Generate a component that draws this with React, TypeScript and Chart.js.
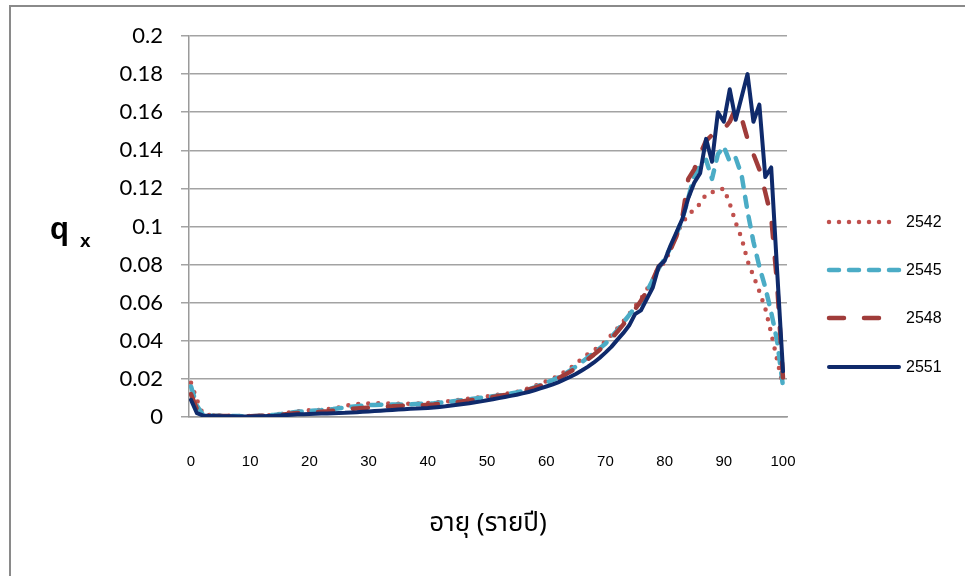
import React, { useEffect, useRef } from "react";
import { Chart, registerables } from "chart.js";

Chart.register(...registerables);

const ages = [
  0, 1, 2, 3, 4, 5, 6, 7, 8, 9, 10, 11, 12, 13, 14, 15, 16, 17, 18, 19, 20,
  21, 22, 23, 24, 25, 26, 27, 28, 29, 30, 31, 32, 33, 34, 35, 36, 37, 38, 39, 40,
  41, 42, 43, 44, 45, 46, 47, 48, 49, 50, 51, 52, 53, 54, 55, 56, 57, 58, 59, 60,
  61, 62, 63, 64, 65, 66, 67, 68, 69, 70, 71, 72, 73, 74, 75, 76, 77, 78, 79, 80,
  81, 82, 83, 84, 85, 86, 87, 88, 89, 90, 91, 92, 93, 94, 95, 96, 97, 98, 99, 100,
];

const q2542 = [
  0.018, 0.009, 0.0015, 0.001, 0.0008, 0.0007, 0.0006, 0.0006, 0.0005, 0.0005, 0.0005,
  0.0006, 0.0007, 0.0009, 0.0012, 0.0016, 0.0021, 0.0026, 0.003, 0.0033, 0.0035,
  0.0036, 0.0038, 0.004, 0.0045, 0.005, 0.0058, 0.0065, 0.0068, 0.007, 0.0071,
  0.0072, 0.0072, 0.0071, 0.0071, 0.007, 0.007, 0.007, 0.0071, 0.0072, 0.0073,
  0.0075, 0.0078, 0.0081, 0.0085, 0.0089, 0.0093, 0.0097, 0.0101, 0.0105, 0.0109,
  0.0113, 0.0117, 0.0121, 0.0126, 0.0132, 0.014, 0.015, 0.0162, 0.0175, 0.0188,
  0.02, 0.0215, 0.0235, 0.0255, 0.028, 0.0305, 0.033, 0.035, 0.037, 0.0395,
  0.043, 0.0465, 0.05, 0.054, 0.058, 0.062, 0.067, 0.072, 0.079, 0.081,
  0.088, 0.096, 0.102, 0.106, 0.109, 0.112, 0.117, 0.118, 0.119, 0.12,
  0.112, 0.102, 0.094, 0.082, 0.074, 0.066, 0.057, 0.044, 0.03, 0.016,
];

const q2545 = [
  0.016, 0.006, 0.0012, 0.0009, 0.0007, 0.0006, 0.0005, 0.0005, 0.0005, 0.0004, 0.0004,
  0.0005, 0.0006, 0.0008, 0.0011, 0.0015, 0.0019, 0.0023, 0.0027, 0.003, 0.0032,
  0.0034, 0.0036, 0.0039, 0.0042, 0.0046, 0.005, 0.0054, 0.0057, 0.006, 0.0062,
  0.0063, 0.0064, 0.0065, 0.0065, 0.0066, 0.0066, 0.0067, 0.0068, 0.0069, 0.007,
  0.0072, 0.0075, 0.0078, 0.0081, 0.0085, 0.0089, 0.0093, 0.0097, 0.0101, 0.0105,
  0.0109, 0.0113, 0.0118, 0.0123, 0.0129, 0.0136, 0.0145, 0.0156, 0.0168, 0.018,
  0.0193, 0.0207, 0.0224, 0.0243, 0.0265, 0.0288, 0.0312, 0.0336, 0.036, 0.0385,
  0.042, 0.0455, 0.0495, 0.0535, 0.0575, 0.06, 0.066, 0.072, 0.078, 0.083,
  0.089, 0.096, 0.104, 0.115, 0.127, 0.132, 0.135, 0.125, 0.138, 0.142,
  0.134, 0.136, 0.127, 0.108, 0.092, 0.079, 0.068, 0.055, 0.04, 0.016,
];

const q2548 = [
  0.012, 0.004, 0.001, 0.0008, 0.0006, 0.0005, 0.0005, 0.0004, 0.0004, 0.0004, 0.0004,
  0.0005, 0.0006, 0.0007, 0.0009, 0.0012, 0.0015, 0.0018, 0.0021, 0.0023, 0.0025,
  0.0026, 0.0028, 0.003, 0.0033, 0.0036, 0.0039, 0.0042, 0.0045, 0.0047, 0.0049,
  0.0051, 0.0053, 0.0055, 0.0056, 0.0058, 0.0059, 0.006, 0.0061, 0.0062, 0.0064,
  0.0066, 0.0069, 0.0072, 0.0075, 0.0079, 0.0083, 0.0087, 0.0091, 0.0096, 0.01,
  0.0105, 0.011, 0.0115, 0.0121, 0.0127, 0.0134, 0.0143, 0.0153, 0.0164, 0.0176,
  0.0189, 0.0203, 0.0219, 0.0237, 0.0257, 0.0279, 0.0302, 0.0326, 0.0352, 0.038,
  0.0412, 0.0447, 0.0485, 0.0525, 0.0565, 0.061, 0.066, 0.072, 0.079, 0.082,
  0.088, 0.095, 0.105, 0.125, 0.13, 0.138, 0.145, 0.148, 0.15, 0.151,
  0.155, 0.162, 0.157, 0.146, 0.138, 0.13, 0.118, 0.105, 0.07, 0.02,
];

const q2551 = [
  0.009, 0.002, 0.0008, 0.0006, 0.0005, 0.0004, 0.0004, 0.0004, 0.0003, 0.0003, 0.0003,
  0.0004, 0.0004, 0.0005, 0.0006, 0.0008, 0.001, 0.0012, 0.0014, 0.0015, 0.0016,
  0.0017, 0.0018, 0.0019, 0.002, 0.0021, 0.0022, 0.0024, 0.0025, 0.0027, 0.0029,
  0.0031, 0.0033, 0.0035, 0.0037, 0.0039, 0.0041, 0.0043, 0.0044, 0.0046, 0.0047,
  0.005, 0.0053, 0.0056, 0.006, 0.0064, 0.0068, 0.0072, 0.0077, 0.0082, 0.0088,
  0.0093, 0.0099, 0.0105, 0.0111, 0.0117, 0.0124, 0.0131, 0.014, 0.015, 0.016,
  0.017, 0.0182, 0.0196, 0.021, 0.0226, 0.0244, 0.0263, 0.0285, 0.031, 0.0338,
  0.0368, 0.0405, 0.044, 0.048, 0.054, 0.056, 0.062, 0.068, 0.079, 0.082,
  0.09, 0.097, 0.104, 0.115, 0.123, 0.128, 0.146, 0.134, 0.16, 0.155,
  0.172, 0.156, 0.168, 0.18, 0.155, 0.164, 0.126, 0.131, 0.077, 0.024,
];

const seriesNames = ["2542", "2545", "2548", "2551"];
const xTickValues = [0, 10, 20, 30, 40, 50, 60, 70, 80, 90, 100];
const yTickValues = [0, 0.02, 0.04, 0.06, 0.08, 0.1, 0.12, 0.14, 0.16, 0.18, 0.2];
const xTitle = "อายุ (รายปี)";
const yTitleMain = "q";
const yTitleSub = "x";

const styles = [
  { color: "#C0504D", dash: [0, 10], width: 4.5, order: 4 },
  { color: "#4BACC6", dash: [10, 10], width: 4.5, order: 3 },
  { color: "#A03C3A", dash: [15, 20], width: 4.5, order: 2 },
  { color: "#0F2A6B", dash: [] as number[], width: 4, order: 1 },
];

const seriesValues = [q2542, q2545, q2548, q2551];

const legendPlugin = {
  id: "customLegend",
  afterDraw(chart: any) {
    const ctx = chart.ctx;
    const ys = [222, 270, 318, 367];
    ctx.save();
    chart.data.datasets.forEach((ds: any, i: number) => {
      const y = ys[i];
      ctx.beginPath();
      ctx.strokeStyle = ds.borderColor;
      ctx.lineWidth = ds.borderWidth;
      ctx.lineCap = "round";
      ctx.setLineDash(ds.borderDash || []);
      ctx.moveTo(829, y);
      ctx.lineTo(899, y);
      ctx.stroke();
      ctx.setLineDash([]);
      ctx.fillStyle = "#000";
      ctx.font = "16px 'Liberation Sans', Arial, sans-serif";
      ctx.textBaseline = "middle";
      ctx.textAlign = "left";
      ctx.fillText(ds.label, 906, y + 1);
    });
    // y axis title "q x"
    ctx.fillStyle = "#000";
    ctx.textBaseline = "alphabetic";
    ctx.font = "bold 31px 'Liberation Sans', Arial, sans-serif";
    ctx.fillText(yTitleMain, 50, 239);
    ctx.font = "bold 19px 'Liberation Sans', Arial, sans-serif";
    ctx.fillText(yTitleSub, 80, 247);
    ctx.restore();
  },
};

export default function App() {
  const ref = useRef<HTMLCanvasElement>(null);

  useEffect(() => {
    const canvas = ref.current;
    if (!canvas) return;
    const chart = new Chart(canvas, {
      type: "line",
      data: {
        datasets: seriesNames.map((name, i) => ({
          label: name,
          data: ages.map((a, j) => ({ x: a, y: seriesValues[i][j] })),
          borderColor: styles[i].color,
          backgroundColor: styles[i].color,
          borderWidth: styles[i].width,
          borderDash: styles[i].dash,
          borderCapStyle: "round" as const,
          borderJoinStyle: "round" as const,
          pointRadius: 0,
          tension: 0,
          fill: false,
          order: styles[i].order,
        })),
      },
      options: {
        animation: false,
        responsive: false,
        maintainAspectRatio: false,
        layout: { padding: { top: 36, right: 178, left: 0, bottom: 0 } },
        plugins: {
          legend: { display: false },
          tooltip: { enabled: false },
        },
        scales: {
          x: {
            type: "linear",
            min: -0.34,
            max: 100.67,
            afterBuildTicks: (scale: any) => {
              scale.ticks = xTickValues.map((v) => ({ value: v }));
            },
            afterFit: (scale: any) => {
              scale.height = 159;
            },
            grid: { display: false, drawTicks: false },
            border: { display: true, color: "#9a9a9a", width: 1.5 },
            ticks: {
              padding: 36,
              color: "#000",
              font: { family: "'Liberation Sans', Arial, sans-serif", size: 15 },
              maxRotation: 0,
              autoSkip: false,
              callback: (v: any) => String(v),
            },
            title: {
              display: true,
              text: xTitle,
              color: "#000",
              font: { family: "'Noto Sans Thai', 'Noto Sans', 'DejaVu Sans', sans-serif", size: 26 },
              padding: { top: 0, bottom: 35 },
            },
          },
          y: {
            type: "linear",
            min: 0,
            max: 0.2,
            afterBuildTicks: (scale: any) => {
              scale.ticks = yTickValues.map((v) => ({ value: v }));
            },
            afterFit: (scale: any) => {
              scale.width = 189;
            },
            grid: { color: "#a3a3a3", lineWidth: 1.5, tickLength: 8, drawTicks: true },
            border: { display: true, color: "#9a9a9a", width: 1.5 },
            ticks: {
              padding: 18,
              color: "#000",
              font: { family: "Lato, 'Liberation Sans', sans-serif", size: 22 },
              callback: (v: any) => String(Number(Number(v).toFixed(2))),
            },
          },
        },
      },
      plugins: [legendPlugin],
    });
    return () => chart.destroy();
  }, []);

  return (
    <div style={{ position: "absolute", left: 0, top: 0, width: 965, height: 576, background: "#fff", overflow: "hidden" }}>
      <div
        style={{
          position: "absolute",
          left: 9,
          top: 5,
          width: 960,
          height: 580,
          borderTop: "2px solid #8a8a8a",
          borderLeft: "2px solid #8a8a8a",
          boxSizing: "border-box",
        }}
      />
      <canvas ref={ref} width={965} height={576} style={{ position: "absolute", left: 0, top: 0, width: 965, height: 576 }} />
    </div>
  );
}
